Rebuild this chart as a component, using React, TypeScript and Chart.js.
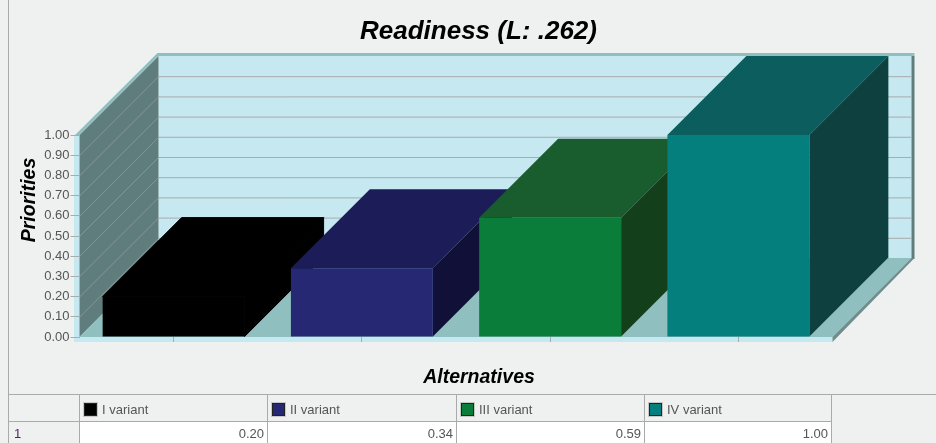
import React, { useEffect, useRef } from "react";
import { Chart, registerables } from "chart.js";

Chart.register(...registerables);

const chartTitle = "Readiness (L: .262)";
const yAxisTitle = "Priorities";
const xAxisTitle = "Alternatives";
const categories = ["I variant", "II variant", "III variant", "IV variant"];
const values = [0.2, 0.34, 0.59, 1.0];
const valueLabels = ["0.20", "0.34", "0.59", "1.00"];
const rowLabel = "1";
const frontColors = ["#000000", "#262873", "#0a7d3b", "#057f7d"];
const topColors = ["#000000", "#1c1c59", "#195c2e", "#0b5e5d"];
const sideColors = ["#000000", "#101038", "#143f1b", "#0e403f"];
const yMax = 1;
const yStep = 0.1;

const DEPTH = 79;
const FONT = '"Liberation Sans", Arial, sans-serif';

function poly(ctx: CanvasRenderingContext2D, pts: number[][], fill: string, seal = false) {
  ctx.fillStyle = fill;
  ctx.beginPath();
  pts.forEach((p, i) => (i ? ctx.lineTo(p[0], p[1]) : ctx.moveTo(p[0], p[1])));
  ctx.closePath();
  ctx.fill();
  if (seal) {
    ctx.strokeStyle = fill;
    ctx.lineWidth = 1;
    ctx.stroke();
  }
}

const walls3d = {
  id: "walls3d",
  beforeDraw(chart: any) {
    const { ctx, chartArea: a, scales } = chart;
    const { left: l, right: r, top: t, bottom: b } = a;
    const d = DEPTH;
    ctx.save();
    // edge strips behind everything
    poly(ctx, [[l - 5.5, t], [l, t], [l, b], [l - 5.5, b + 5]], "#c6e8f0");
    poly(ctx, [[l - 5.5, b], [r, b], [r, b + 5], [l - 5.5, b + 5]], "#c6e8f0");
    // back wall
    poly(ctx, [[l + d, t - d], [r + d, t - d], [r + d, b - d], [l + d, b - d]], "#c6e8f0");
    // left wall
    poly(ctx, [[l, t], [l + d, t - d], [l + d, b - d], [l, b]], "#5f7d7d");
    // top strip of the walls
    poly(ctx, [[l - 4.5, t], [l + d - 1, t - d - 3], [r + d + 3, t - d - 3], [r + d + 3, t - d], [l + d, t - d], [l, t]], "#8fbfbf");
    // floor
    poly(ctx, [[l, b], [l + d, b - d], [r + d, b - d], [r, b]], "#8fbfbf");
    // right wall edge and floor edge
    poly(ctx, [[r + d, t - d], [r + d + 3, t - d], [r + d + 3, b - d + 1], [r + d, b - d + 1]], "#5f7d7d");
    poly(ctx, [[r, b], [r + d, b - d], [r + d + 3, b - d], [r, b + 5]], "#6f8d8d");
    // gridlines
    const y = scales.y;
    y.ticks.forEach((tk: any) => {
      if (tk.value === 0 || tk.value === yMax) return;
      const py = y.getPixelForValue(tk.value);
      ctx.lineWidth = 1;
      ctx.strokeStyle = "#a8acae";
      ctx.beginPath();
      ctx.moveTo(l + d, py - d + 0.5);
      ctx.lineTo(r + d, py - d + 0.5);
      ctx.stroke();
      ctx.strokeStyle = "#869696";
      ctx.beginPath();
      ctx.moveTo(l, py + 0.5);
      ctx.lineTo(l + d, py - d + 0.5);
      ctx.stroke();
    });
    // bar depth faces
    const els = chart.getDatasetMeta(0).data;
    els.forEach((el: any, i: number) => {
      const p = el.getProps(["x", "y", "base", "width"], true);
      const x0 = p.x - p.width / 2;
      const x1 = p.x + p.width / 2;
      const seal = topColors[i] === sideColors[i];
      poly(ctx, [[x0, p.y], [x0 + d, p.y - d], [x1 + d, p.y - d], [x1, p.y]], topColors[i], seal);
      poly(ctx, [[x1, p.y], [x1 + d, p.y - d], [x1 + d, p.base - d], [x1, p.base]], sideColors[i], seal);
    });
    ctx.restore();
  },
  afterDraw(chart: any) {
    const { ctx } = chart;
    ctx.save();
    ctx.fillStyle = "#000000";
    ctx.textAlign = "center";
    ctx.textBaseline = "middle";
    ctx.font = `italic bold 26px ${FONT}`;
    ctx.fillText(chartTitle, 478.5, 31.5);
    ctx.font = `italic bold 19.5px ${FONT}`;
    ctx.fillText(xAxisTitle, 479, 378);
    ctx.translate(30, 200);
    ctx.rotate(-Math.PI / 2);
    ctx.fillText(yAxisTitle, 0, 0);
    ctx.restore();
  },
};

const cellBase: React.CSSProperties = {
  position: "absolute",
  boxSizing: "border-box",
  font: `13px ${FONT}`,
  color: "#555555",
};
const columnEdges = [79, 267, 456, 644, 831];
const LINE = "#a9abab";

export default function App() {
  const ref = useRef<HTMLCanvasElement>(null);
  useEffect(() => {
    const chart = new Chart(ref.current!, {
      type: "bar",
      data: {
        labels: categories,
        datasets: [
          {
            data: values,
            backgroundColor: frontColors,
            barPercentage: 0.754,
            categoryPercentage: 1,
          },
        ],
      },
      options: {
        responsive: false,
        animation: false,
        layout: { padding: { top: 135, left: 0, right: 103.5, bottom: 100 } },
        plugins: { legend: { display: false }, title: { display: false }, tooltip: { enabled: false } },
        scales: {
          x: {
            offset: true,
            border: { display: false },
            grid: { offset: false, drawOnChartArea: false, drawTicks: true, tickLength: 5, color: "#a8acae" },
            ticks: { display: false },
            afterFit: (s: any) => {
              s.height = 6;
            },
          },
          y: {
            min: 0,
            max: yMax,
            border: { display: false },
            grid: { drawOnChartArea: false, drawTicks: true, tickLength: 9, color: "#a8acae" },
            ticks: {
              stepSize: yStep,
              padding: 1,
              color: "#555555",
              font: { family: FONT, size: 13 },
              callback: (v: any) => Number(v).toFixed(2),
            },
            afterFit: (s: any) => {
              s.width = 79.5;
            },
          },
        },
      },
      plugins: [walls3d],
    } as any);
    return () => chart.destroy();
  }, []);

  return (
    <div style={{ position: "fixed", left: 0, top: 0, width: 936, height: 443, background: "#eff1f0", overflow: "hidden" }}>
      <canvas ref={ref} width={936} height={443} style={{ position: "absolute", left: 0, top: 0, display: "block" }} />
      <div style={{ position: "absolute", left: 8, top: 0, width: 1, height: 443, background: LINE }} />
      <div style={{ position: "absolute", left: 8, top: 394, width: 928, height: 1, background: LINE }} />
      <div style={{ position: "absolute", left: 8, top: 421, width: 824, height: 1, background: LINE }} />
      <div style={{ position: "absolute", left: 79, top: 422, width: 752, height: 21, background: "#ffffff" }} />
      {columnEdges.map((x) => (
        <div key={x} style={{ position: "absolute", left: x, top: 395, width: 1, height: 48, background: LINE }} />
      ))}
      <div style={{ ...cellBase, left: 14, top: 426, color: "#552266" }}>{rowLabel}</div>
      {categories.map((c, i) => (
        <React.Fragment key={c}>
          <div
            style={{
              position: "absolute",
              boxSizing: "border-box",
              left: columnEdges[i] + 5,
              top: 403,
              width: 13,
              height: 13,
              background: frontColors[i],
              border: "1px solid #222",
              outline: "1px solid #c8c8c8",
            }}
          />
          <div style={{ ...cellBase, left: columnEdges[i] + 23, top: 402 }}>{c}</div>
          <div style={{ ...cellBase, left: columnEdges[i], width: columnEdges[i + 1] - columnEdges[i] - 3, textAlign: "right", top: 426 }}>
            {valueLabels[i]}
          </div>
        </React.Fragment>
      ))}
    </div>
  );
}
